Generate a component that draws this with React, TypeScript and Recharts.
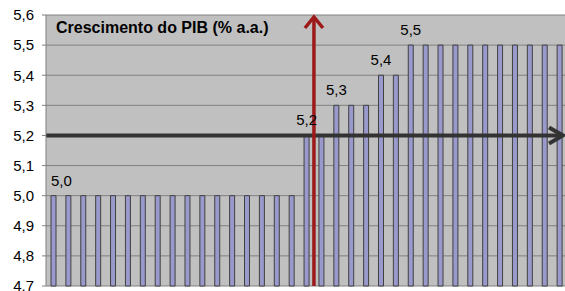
import { Bar, BarChart, CartesianGrid, LabelList, ReferenceLine, XAxis, YAxis } from 'recharts';

// one bar per period, GDP growth scenario (% a.a.)
const periods = Array.from({ length: 35 }, (_, i) => i + 1);
const growth = [
  5.0, 5.0, 5.0, 5.0, 5.0, 5.0, 5.0, 5.0, 5.0, 5.0, 5.0, 5.0, 5.0, 5.0, 5.0, 5.0, 5.0,
  5.2, 5.2,
  5.3, 5.3, 5.3,
  5.4, 5.4,
  5.5, 5.5, 5.5, 5.5, 5.5, 5.5, 5.5, 5.5, 5.5, 5.5, 5.5,
];
const yTicks = [4.7, 4.8, 4.9, 5.0, 5.1, 5.2, 5.3, 5.4, 5.5, 5.6];
const baseline = 5.2;
const turnPoint = 18.5;

const fmt = (v: number) => v.toFixed(1).replace('.', ',');

const data = periods.map((p, i) => ({
  period: p,
  value: growth[i],
  label: i === 0 || growth[i] !== growth[i - 1] ? fmt(growth[i]) : '',
}));

function GroupLabel(props: any) {
  const { x, y, width, value, index } = props;
  if (!value) return null;
  const first = index === 0;
  return (
    <text
      x={first ? x : x + width / 2}
      y={y - 10}
      textAnchor={first ? 'start' : 'middle'}
      fontSize={15}
      fill="#000"
    >
      {value}
    </text>
  );
}

function HArrow(props: any) {
  const { x1, x2, y1 } = props;
  const left = Math.min(x1, x2);
  const right = Math.max(x1, x2);
  return (
    <g stroke="#333" strokeWidth={4} fill="none">
      <line x1={left} y1={y1} x2={right - 2} y2={y1} />
      <polyline points={`${right - 15},${y1 - 8} ${right - 1},${y1} ${right - 15},${y1 + 8}`} strokeLinejoin="miter" />
    </g>
  );
}

function VArrow(props: any) {
  const { x1, y1, y2 } = props;
  const top = Math.min(y1, y2);
  const bottom = Math.max(y1, y2);
  return (
    <g stroke="#9c1a1a" strokeWidth={3.5} fill="none">
      <line x1={x1} y1={bottom} x2={x1} y2={top + 2} />
      <polyline points={`${x1 - 9},${top + 13} ${x1},${top + 2} ${x1 + 9},${top + 13}`} />
    </g>
  );
}

export default function App() {
  return (
    <div
      style={{
        position: 'absolute',
        left: 0,
        top: 0,
        width: 565,
        height: 291,
        overflow: 'hidden',
        background: '#fff',
        fontFamily: '"Liberation Sans", Arial, sans-serif',
      }}
    >
      <BarChart width={567} height={291} data={data} margin={{ top: 15, right: 0, left: 0, bottom: 5 }}>
        <CartesianGrid fill="#c0c0c0" stroke="#808080" vertical={false} />
        <XAxis type="number" dataKey="period" domain={[0.5, 35.5]} hide />
        <YAxis
          domain={[4.7, 5.6]}
          ticks={yTicks}
          width={46}
          tickFormatter={(v) => fmt(Number(v))}
          tick={{ fill: '#000', fontSize: 15 }}
          tickSize={4}
          tickMargin={8}
          axisLine={{ stroke: '#808080' }}
          tickLine={{ stroke: '#808080' }}
          interval={0}
        />
        <Bar dataKey="value" fill="#9999cc" stroke="#404040" strokeWidth={1} barSize={5} isAnimationActive={false}>
          <LabelList dataKey="label" content={<GroupLabel />} />
        </Bar>
        <ReferenceLine
          segment={[{ x: 0.5, y: baseline }, { x: 35.3, y: baseline }]}
          shape={<HArrow />}
        />
        <ReferenceLine x={turnPoint} shape={<VArrow />} />
      </BarChart>
      <div
        style={{
          position: 'absolute',
          left: 56,
          top: 19,
          fontSize: 16,
          fontWeight: 'bold',
          color: '#000',
        }}
      >
        Crescimento do PIB (% a.a.)
      </div>
    </div>
  );
}
